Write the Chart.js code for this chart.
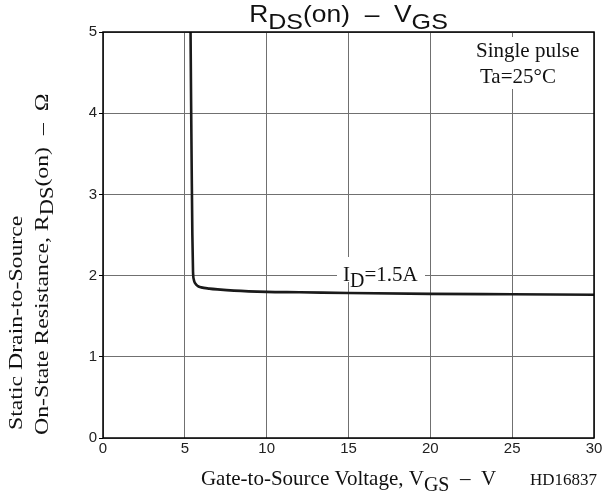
<!DOCTYPE html>
<html>
<head>
<meta charset="utf-8">
<script src="https://cdn.jsdelivr.net/npm/chart.js@4.4.1/dist/chart.umd.min.js"></script>
<style>
  body { margin: 0; background: #fff; }
  #wrap { width: 605px; height: 493px; }
</style>
</head>
<body>
<div id="wrap"><canvas id="chart" width="605" height="493"></canvas></div>
<script>
// values (ID = 1.5A)
const vgs = [5.35, 5.38, 5.42, 5.46, 5.5, 5.55, 5.65, 5.8, 6.0, 6.5, 7, 8, 10, 12, 15, 20, 25, 30];
const rds = [5.0, 4.2, 3.3, 2.5, 2.05, 1.95, 1.9, 1.87, 1.855, 1.84, 1.83, 1.815, 1.80, 1.795, 1.785, 1.775, 1.77, 1.765];
const xTicks = [0, 5, 10, 15, 20, 25, 30];
const yTicks = [0, 1, 2, 3, 4, 5];

const SERIF = '"Liberation Serif", "Times New Roman", serif';
const SANS = '"Liberation Sans", Arial, sans-serif';

// draws text made of normal and subscript parts, sx stretches along the text
function drawParts(ctx, parts, x, y, size, align, sx) {
    sx = sx || 1;
    let total = 0;
    parts.forEach(p => {
        ctx.font = (p.sub ? size * 0.95 : size) + 'px ' + p.font;
        p.w = ctx.measureText(p.t).width * sx;
        total += p.w;
    });
    let cx = align === 'center' ? x - total / 2 : x;
    parts.forEach(p => {
        ctx.font = (p.sub ? size * 0.95 : size) + 'px ' + p.font;
        ctx.textAlign = 'left';
        ctx.save();
        ctx.translate(cx, p.sub ? y + size * 0.28 : y);
        ctx.scale(sx, 1);
        ctx.fillText(p.t, 0, 0);
        ctx.restore();
        cx += p.w;
    });
}

const textPlugin = {
    id: 'texts',
    afterDraw(chart) {
        const ctx = chart.ctx;
        const a = chart.chartArea;
        ctx.save();
        ctx.textBaseline = 'alphabetic';

        // white boxes behind the notes (they hide the grid)
        ctx.fillStyle = '#fff';
        ctx.fillRect(468, 37, 118, 52);
        ctx.fillRect(337, 257, 88, 25);

        // frame
        ctx.strokeStyle = '#000';
        ctx.lineWidth = 1.5;
        ctx.strokeRect(a.left, a.top, a.right - a.left, a.bottom - a.top);

        ctx.fillStyle = '#111';
        // title
        drawParts(ctx, [
            { t: 'R', font: SANS }, { t: 'DS', font: SANS, sub: true },
            { t: '(on)  \u2013  V', font: SANS }, { t: 'GS', font: SANS, sub: true }
        ], (a.left + a.right) / 2, 22, 24, 'center', 1.1);

        // x axis title
        drawParts(ctx, [
            { t: 'Gate-to-Source Voltage, V', font: SERIF }, { t: 'GS', font: SERIF, sub: true },
            { t: '  \u2013  V', font: SERIF }
        ], (a.left + a.right) / 2, 485, 21, 'center');

        ctx.font = '17px ' + SERIF;
        ctx.textAlign = 'left';
        ctx.fillText('HD16837', 530, 485);

        // y axis title (two lines, stretched along the text like the reference)
        ctx.save();
        ctx.translate(22, 430);
        ctx.rotate(-Math.PI / 2);
        drawParts(ctx, [{ t: 'Static Drain-to-Source', font: SERIF }], 0, 0, 19, 'left', 1.25);
        ctx.restore();
        ctx.save();
        ctx.translate(48, 435);
        ctx.rotate(-Math.PI / 2);
        drawParts(ctx, [
            { t: 'On-State Resistance, R', font: SERIF }, { t: 'DS', font: SERIF, sub: true },
            { t: '(on)  \u2013  \u03A9', font: SERIF }
        ], 0, 0, 19, 'left', 1.25);
        ctx.restore();

        // notes
        ctx.font = '21px ' + SERIF;
        ctx.textAlign = 'left';
        ctx.fillText('Single pulse', 476, 57);
        ctx.fillText('Ta=25\u00B0C', 480, 83);

        // curve label
        drawParts(ctx, [
            { t: 'I', font: SERIF }, { t: 'D', font: SERIF, sub: true },
            { t: '=1.5A', font: SERIF }
        ], 343, 281, 21, 'left');

        ctx.restore();
    }
};

new Chart(document.getElementById('chart'), {
    type: 'line',
    data: {
        datasets: [{
            data: vgs.map((v, i) => ({ x: v, y: rds[i] })),
            borderColor: '#1a1a1a',
            borderWidth: 2.6,
            pointRadius: 0,
            fill: false,
            cubicInterpolationMode: 'monotone'
        }]
    },
    options: {
        responsive: false,
        animation: false,
        layout: { padding: { left: 0, right: 11, top: 32, bottom: 0 } },
        plugins: { legend: { display: false }, tooltip: { enabled: false } },
        scales: {
            x: {
                type: 'linear',
                min: 0, max: 30,
                afterBuildTicks: axis => { axis.ticks = xTicks.map(v => ({ value: v })); },
                afterFit: axis => { axis.height = 55; },
                grid: { color: '#707070', lineWidth: 1, drawTicks: false },
                border: { display: false },
                ticks: {
                    padding: 2,
                    color: '#222',
                    font: { family: SANS, size: 15 },
                    maxRotation: 0
                }
            },
            y: {
                type: 'linear',
                min: 0, max: 5,
                afterBuildTicks: axis => { axis.ticks = yTicks.map(v => ({ value: v })); },
                afterFit: axis => { axis.width = 103; },
                grid: { color: '#707070', lineWidth: 1, tickLength: 4, tickColor: '#000' },
                border: { display: false },
                ticks: {
                    padding: 2,
                    color: '#222',
                    font: { family: SANS, size: 15 }
                }
            }
        }
    },
    plugins: [textPlugin]
});
</script>
</body>
</html>
